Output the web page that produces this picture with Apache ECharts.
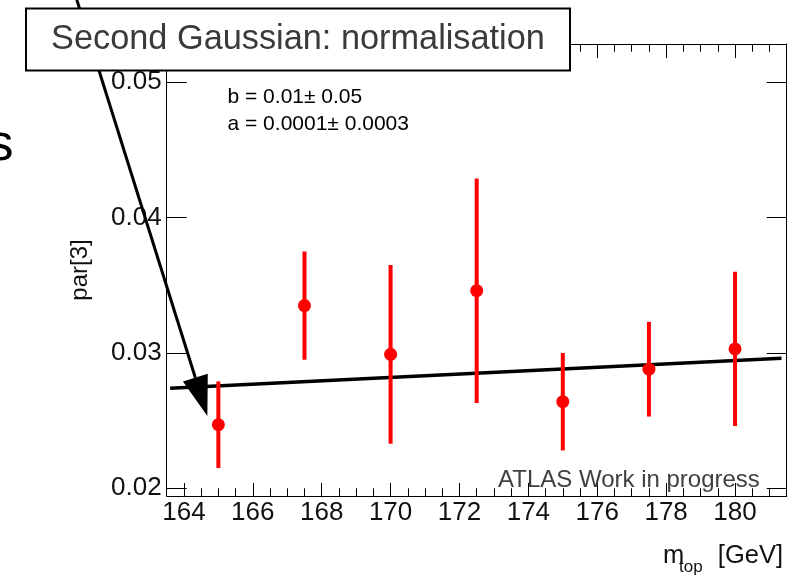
<!DOCTYPE html>
<html>
<head>
<meta charset="utf-8">
<script src="https://cdn.jsdelivr.net/npm/echarts@6/dist/echarts.min.js"></script>
<style>
  html, body { margin: 0; padding: 0; background: #ffffff; }
  #chart { width: 793px; height: 575px; }
</style>
</head>
<body>
<div id="chart"></div>
<script>
// Fitted normalisation of the second Gaussian versus top-quark mass
const massPoints = [165, 167.5, 170, 172.5, 175, 177.5, 180];
const par3Values = [0.0247, 0.0335, 0.0299, 0.0346, 0.0264, 0.0288, 0.0303];
const par3Errors = [0.0032, 0.0040, 0.0066, 0.0083, 0.0036, 0.0035, 0.0057];

// Linear fit drawn across the frame
const fitX = [163.6, 181.35];
const fitY = [0.0274, 0.0296];

// Axis ranges and tick values
const xRange = [163.5, 181.5];
const yRange = [0.01943, 0.05283];
const xMajorTicks = [164, 166, 168, 170, 172, 174, 176, 178, 180];
const yMajorTicks = [0.02, 0.03, 0.04, 0.05];
const xMinorTicks = [];
for (let v = xRange[0]; v <= xRange[1] + 1e-9; v += 0.5) {
  if (xMajorTicks.indexOf(v) < 0) xMinorTicks.push(v);
}

// Annotation arrow anchors (data units)
const arrowTail = [160.89, 0.0561];
const arrowTip = [164.68, 0.02535];

const FONT = "'Liberation Sans', Arial, Helvetica, sans-serif";
const frameLine = { color: '#000000', width: 1 };

function xAxisDef(position, ticks, length, showLine, showLabels) {
  return {
    type: 'value', position: position, min: xRange[0], max: xRange[1],
    axisLine: { show: showLine, onZero: false, lineStyle: frameLine },
    axisTick: { show: true, inside: true, length: length, customValues: ticks, lineStyle: frameLine },
    axisLabel: {
      show: showLabels, customValues: ticks, margin: 4,
      fontSize: 26, color: '#111111', fontFamily: FONT
    },
    splitLine: { show: false }, minorTick: { show: false }
  };
}

const chart = echarts.init(document.getElementById('chart'), null, { renderer: 'canvas' });

chart.setOption({
  animation: false,
  backgroundColor: '#ffffff',
  grid: { left: 166.7, right: 6.3, top: 44, bottom: 79, containLabel: false },
  xAxis: [
    xAxisDef('bottom', xMajorTicks, 13, true, true),
    xAxisDef('bottom', xMinorTicks, 7.7, false, false),
    xAxisDef('top', xMajorTicks, 14, true, false),
    xAxisDef('top', xMinorTicks, 7.7, false, false)
  ],
  yAxis: [
    {
      type: 'value', position: 'left', min: yRange[0], max: yRange[1],
      axisLine: { show: true, onZero: false, lineStyle: frameLine },
      axisTick: { show: true, inside: true, length: 20, customValues: yMajorTicks, lineStyle: frameLine },
      axisLabel: {
        customValues: yMajorTicks, margin: 5,
        formatter: function (v) { return v.toFixed(2); },
        fontSize: 26, color: '#111111', fontFamily: FONT
      },
      splitLine: { show: false },
      name: 'par[3]', nameLocation: 'middle', nameGap: 74,
      nameTextStyle: { fontSize: 24, color: '#111111', fontFamily: FONT }
    },
    {
      type: 'value', position: 'right', min: yRange[0], max: yRange[1],
      axisLine: { show: true, onZero: false, lineStyle: frameLine },
      axisTick: { show: true, inside: true, length: 20, customValues: yMajorTicks, lineStyle: frameLine },
      axisLabel: { show: false },
      splitLine: { show: false }
    }
  ],
  series: [
    {
      name: 'fit', type: 'line', xAxisIndex: 0, yAxisIndex: 0,
      data: fitX.map(function (x, i) { return [x, fitY[i]]; }),
      showSymbol: false, silent: true, z: 2,
      lineStyle: { color: '#000000', width: 3.5 }
    },
    {
      name: 'errors', type: 'custom', xAxisIndex: 0, yAxisIndex: 0, z: 3,
      data: massPoints.map(function (m, i) { return [m, par3Values[i], par3Errors[i]]; }),
      encode: { x: 0, y: 1 },
      renderItem: function (params, api) {
        const x = api.value(0), y = api.value(1), e = api.value(2);
        const top = api.coord([x, y + e]);
        const bot = api.coord([x, y - e]);
        return {
          type: 'line',
          shape: { x1: top[0], y1: top[1], x2: bot[0], y2: bot[1] },
          style: { stroke: '#ff0000', lineWidth: 4 }
        };
      }
    },
    {
      name: 'par[3]', type: 'scatter', xAxisIndex: 0, yAxisIndex: 0, z: 4,
      data: massPoints.map(function (m, i) { return [m, par3Values[i]]; }),
      symbol: 'circle', symbolSize: 13,
      itemStyle: { color: '#ff0000', opacity: 1 }
    }
  ]
});

// Annotation arrow, placed through the axes
const tail = chart.convertToPixel({ gridIndex: 0 }, arrowTail);
const tip = chart.convertToPixel({ gridIndex: 0 }, arrowTip);
const dx = tip[0] - tail[0], dy = tip[1] - tail[1];
const len = Math.sqrt(dx * dx + dy * dy);
const ux = dx / len, uy = dy / len;
const headLen = 40, headHalf = 13;
const base = [tip[0] - ux * headLen, tip[1] - uy * headLen];

chart.setOption({
  graphic: [
    {
      type: 'text', x: -12.5, y: 146, z: 50,
      style: { text: 's', font: '52px ' + FONT, fill: '#000000', verticalAlign: 'middle' }
    },
    {
      type: 'line', z: 60,
      shape: { x1: tail[0], y1: tail[1], x2: base[0], y2: base[1] },
      style: { stroke: '#000000', lineWidth: 3 }
    },
    {
      type: 'polygon', z: 61,
      shape: {
        points: [
          tip,
          [base[0] - uy * headHalf, base[1] + ux * headHalf],
          [base[0] + uy * headHalf, base[1] - ux * headHalf]
        ]
      },
      style: { fill: '#000000' }
    },
    {
      type: 'rect', z: 70,
      shape: { x: 26, y: 8.5, width: 544, height: 62 },
      style: { fill: '#ffffff', stroke: '#000000', lineWidth: 2 }
    },
    {
      type: 'text', z: 71, x: 298, y: 40,
      style: {
        text: 'Second Gaussian: normalisation', font: '34.3px ' + FONT,
        fill: '#3a3a3a', align: 'center', verticalAlign: 'middle'
      }
    },
    {
      type: 'text', z: 40, x: 227.5, y: 97,
      style: { text: 'b = 0.01\u00b1 0.05', font: '21px ' + FONT, fill: '#000000', verticalAlign: 'middle' }
    },
    {
      type: 'text', z: 40, x: 227.5, y: 124,
      style: { text: 'a = 0.0001\u00b1 0.0003', font: '21px ' + FONT, fill: '#000000', verticalAlign: 'middle' }
    },
    {
      type: 'text', z: 40, x: 498, y: 480,
      style: { text: 'ATLAS Work in progress', font: '24px ' + FONT, fill: '#404040', verticalAlign: 'middle' }
    },
    {
      type: 'text', z: 40, x: 663, y: 556,
      style: { text: 'm', font: '25.5px ' + FONT, fill: '#111111', verticalAlign: 'middle' }
    },
    {
      type: 'text', z: 40, x: 679, y: 567,
      style: { text: 'top', font: '17px ' + FONT, fill: '#111111', verticalAlign: 'middle' }
    },
    {
      type: 'text', z: 40, x: 783, y: 556,
      style: { text: '[GeV]', font: '25.5px ' + FONT, fill: '#111111', align: 'right', verticalAlign: 'middle' }
    }
  ]
});
</script>
</body>
</html>
